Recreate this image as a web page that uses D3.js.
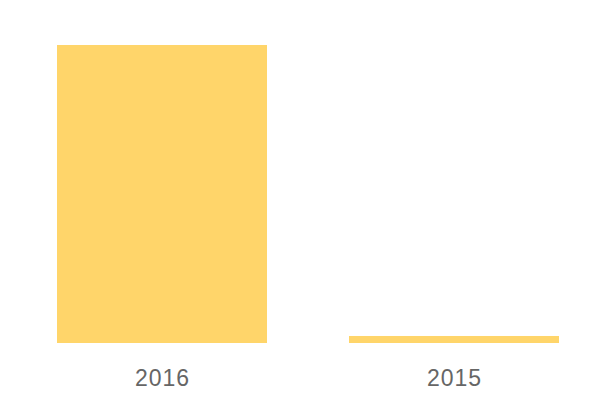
<!DOCTYPE html>
<html><head><meta charset="utf-8">
<script src="https://cdn.jsdelivr.net/npm/d3@7"></script>
<style>html,body{margin:0;padding:0;background:#fff;}</style>
</head><body>
<svg id="c" width="600" height="400"></svg>
<script>
const categories = ["2016", "2015"];
const values = [1275, 30];

const svg = d3.select("#c");
const x = d3.scaleBand().domain(categories).range([57, 559]).paddingInner(82/292).paddingOuter(0);
const y = d3.scaleLinear().domain([0, 1275]).range([343, 45]);

svg.selectAll("rect").data(categories).join("rect")
  .attr("x", d => x(d))
  .attr("width", x.bandwidth())
  .attr("y", (d, i) => y(values[i]))
  .attr("height", (d, i) => y(0) - y(values[i]))
  .attr("fill", "#FFD56A");

const ax = svg.append("g").attr("transform", "translate(0,343)")
  .call(d3.axisBottom(x).tickSize(0));
ax.select(".domain").remove();
ax.selectAll("text")
  .attr("y", 43).attr("dy", 0).attr("dx", 0.5)
  .attr("fill", "#666")
  .style("font-size", "23px")
  .style("letter-spacing", "1px")
  .style("font-family", "'Liberation Sans', Arial, sans-serif");
</script>
</body></html>
